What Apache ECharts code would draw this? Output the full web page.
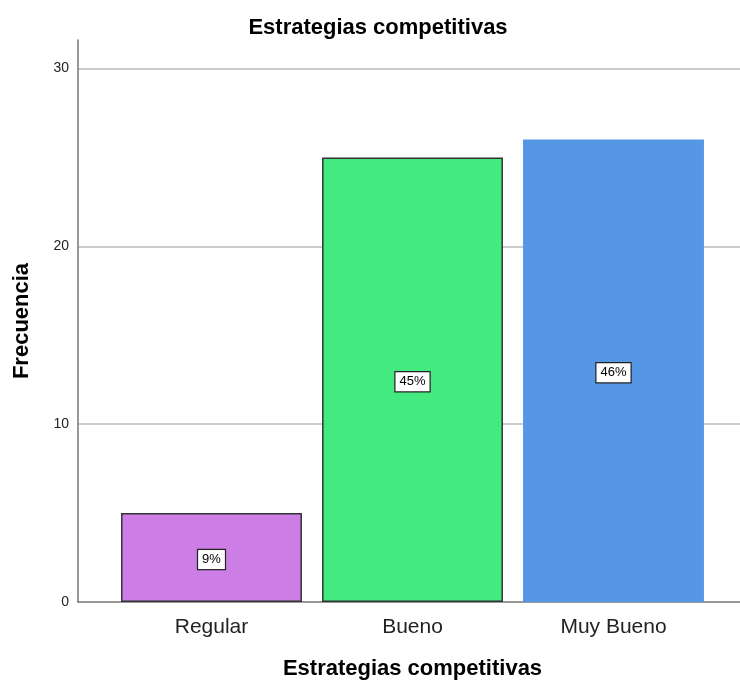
<!DOCTYPE html>
<html>
<head>
<meta charset="utf-8">
<script src="https://cdn.jsdelivr.net/npm/echarts@6/dist/echarts.min.js"></script>
<style>html,body{margin:0;padding:0;background:#fff}#c{width:740px;height:680px}</style>
</head>
<body>
<div id="c"></div>
<script>
const categories = ['Regular', 'Bueno', 'Muy Bueno'];
const values = [5, 25, 26];
const percentLabels = ['9%', '45%', '46%'];
const barColors = ['#cc7ee6', '#42ea7f', '#5596e5'];
const barBorders = ['#333333', '#333333', 'transparent'];
const yTicks = [0, 10, 20, 30];

const font = '"Liberation Sans", Arial, sans-serif';
const chart = echarts.init(document.getElementById('c'), null, {renderer: 'canvas'});
const yMax = 31.6;

chart.setOption({
  backgroundColor: '#ffffff',
  animation: false,
  title: {
    text: 'Estrategias competitivas',
    left: 373, top: 12, textAlign: 'center',
    textStyle: {fontFamily: font, fontSize: 22, fontWeight: 'bold', color: '#000'}
  },
  grid: [
    {left: 78, right: 0, top: 40, bottom: 78, containLabel: false, outerBoundsMode: 'none'},
    {left: 111, right: 26, top: 40, bottom: 78, containLabel: false, outerBoundsMode: 'none'}
  ],
  xAxis: [
    {
      gridIndex: 0, type: 'value', min: 0, max: 1,
      axisLine: {show: true, onZero: false, lineStyle: {color: '#777', width: 1.5}},
      axisTick: {show: false}, axisLabel: {show: false}, splitLine: {show: false}
    },
    {
      gridIndex: 1, type: 'category', data: categories,
      axisLine: {show: false}, axisTick: {show: false},
      axisLabel: {fontFamily: font, fontSize: 21, color: '#222', margin: 15},
      name: 'Estrategias competitivas', nameLocation: 'middle', nameGap: 67,
      nameTextStyle: {fontFamily: font, fontSize: 22, fontWeight: 'bold', color: '#000', verticalAlign: 'middle'}
    }
  ],
  yAxis: [
    {
      gridIndex: 0, type: 'value', min: 0, max: yMax, interval: 10,
      axisLine: {show: true, lineStyle: {color: '#777', width: 1.5}},
      axisTick: {show: false},
      axisLabel: {
        fontFamily: font, fontSize: 14, color: '#222', margin: 9,
        customValues: yTicks,
        formatter: v => (yTicks.indexOf(v) >= 0 ? String(v) : '')
      },
      splitLine: {show: true, showMinLine: false, showMaxLine: false, lineStyle: {color: '#cccccc', width: 2}},
      name: 'Frecuencia', nameLocation: 'middle', nameGap: 56, nameRotate: 90,
      nameTextStyle: {fontFamily: font, fontSize: 22, fontWeight: 'bold', color: '#000', verticalAlign: 'middle'}
    },
    {
      gridIndex: 1, type: 'value', min: 0, max: yMax,
      show: false, splitLine: {show: false}
    }
  ],
  series: [{
    type: 'bar', xAxisIndex: 1, yAxisIndex: 1,
    barWidth: '90%',
    data: values.map((v, i) => ({
      value: v,
      itemStyle: {color: barColors[i], borderColor: barBorders[i], borderWidth: i < 2 ? 1.5 : 0},
      label: {formatter: percentLabels[i]}
    })),
    label: {
      show: true, position: 'inside', offset: [0, 2],
      fontFamily: font, fontSize: 13, color: '#000', lineHeight: 14,
      backgroundColor: '#fff', borderColor: '#222', borderWidth: 1.2,
      padding: [3, 4, 2, 4]
    }
  }]
});
</script>
</body>
</html>
